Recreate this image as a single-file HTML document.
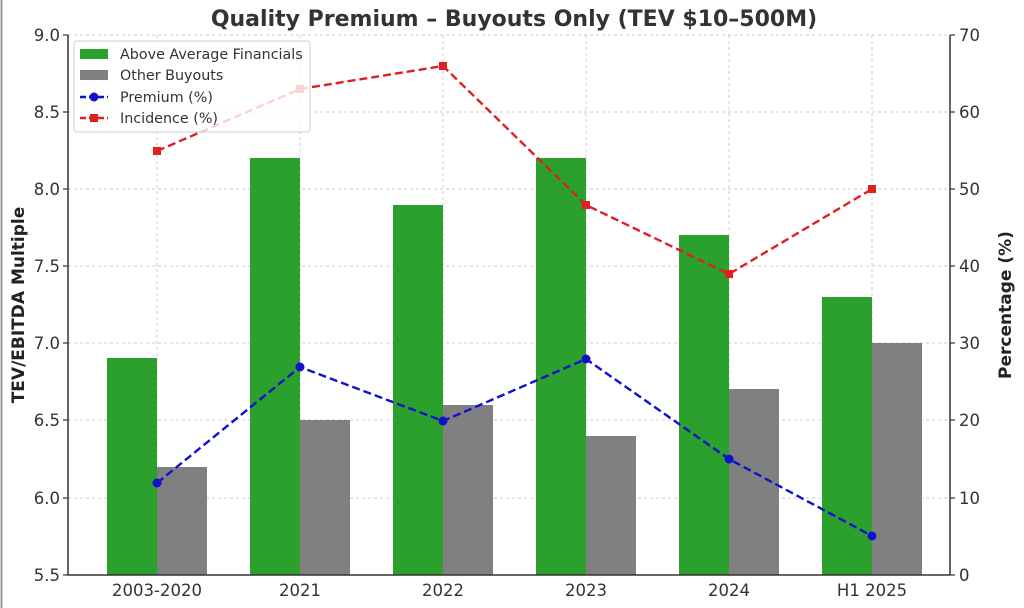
<!DOCTYPE html>
<html><head><style>body{margin:0;background:#fff}svg{display:block}</style></head><body>
<svg width="1024" height="608" xmlns="http://www.w3.org/2000/svg" font-family="'DejaVu Sans','Liberation Sans',sans-serif">
<rect width="1024" height="608" fill="#fff"/>
<line x1="1.5" y1="0" x2="1.5" y2="608" stroke="#999" stroke-width="2"/>
<text x="514" y="26" text-anchor="middle" font-size="22" font-weight="bold" fill="#333">Quality Premium – Buyouts Only (TEV $10–500M)</text>
<g stroke="#ccc" stroke-dasharray="3,3" stroke-width="1">
<line x1="68" x2="950" y1="35" y2="35"/><line x1="68" x2="950" y1="112" y2="112"/><line x1="68" x2="950" y1="189" y2="189"/><line x1="68" x2="950" y1="266" y2="266"/><line x1="68" x2="950" y1="343" y2="343"/><line x1="68" x2="950" y1="420" y2="420"/><line x1="68" x2="950" y1="498" y2="498"/>
<line x1="157" x2="157" y1="35" y2="575"/><line x1="300" x2="300" y1="35" y2="575"/><line x1="443" x2="443" y1="35" y2="575"/><line x1="586" x2="586" y1="35" y2="575"/><line x1="729" x2="729" y1="35" y2="575"/><line x1="872" x2="872" y1="35" y2="575"/>
</g>
<g fill="#2ca02c">
<rect x="107" y="358" width="50" height="217"/><rect x="250" y="158" width="50" height="417"/><rect x="393" y="205" width="50" height="370"/><rect x="536" y="158" width="50" height="417"/><rect x="679" y="235" width="50" height="340"/><rect x="822" y="297" width="50" height="278"/>
</g>
<g fill="#808080">
<rect x="157" y="467" width="50" height="108"/><rect x="300" y="420" width="50" height="155"/><rect x="443" y="405" width="50" height="170"/><rect x="586" y="436" width="50" height="139"/><rect x="729" y="389" width="50" height="186"/><rect x="872" y="343" width="50" height="232"/>
</g>
<polyline points="157,483 300,367 443,421 586,359 729,459 872,536" fill="none" stroke="#1010d0" stroke-width="2.4" stroke-dasharray="8,4"/>
<g fill="#1010d0"><circle cx="157" cy="483" r="4.5"/><circle cx="300" cy="367" r="4.5"/><circle cx="443" cy="421" r="4.5"/><circle cx="586" cy="359" r="4.5"/><circle cx="729" cy="459" r="4.5"/><circle cx="872" cy="536" r="4.5"/></g>
<polyline points="157,151 300,89 443,66 586,205 729,274 872,189" fill="none" stroke="#e02020" stroke-width="2.4" stroke-dasharray="8,4"/>
<g fill="#e02020"><rect x="153" y="147" width="8" height="8"/><rect x="296" y="85" width="8" height="8"/><rect x="439" y="62" width="8" height="8"/><rect x="582" y="201" width="8" height="8"/><rect x="725" y="270" width="8" height="8"/><rect x="868" y="185" width="8" height="8"/></g>
<g stroke="#333" stroke-width="1.5" fill="none">
<line x1="68" y1="35" x2="68" y2="575"/><line x1="68" y1="575" x2="950" y2="575"/><line x1="950" y1="35" x2="950" y2="575"/>
</g>
<g stroke="#333" stroke-width="1.2">
<line x1="63" x2="68" y1="35" y2="35"/><line x1="63" x2="68" y1="112" y2="112"/><line x1="63" x2="68" y1="189" y2="189"/><line x1="63" x2="68" y1="266" y2="266"/><line x1="63" x2="68" y1="343" y2="343"/><line x1="63" x2="68" y1="420" y2="420"/><line x1="63" x2="68" y1="498" y2="498"/><line x1="63" x2="68" y1="575" y2="575"/>
<line x1="950" x2="955" y1="35" y2="35"/><line x1="950" x2="955" y1="112" y2="112"/><line x1="950" x2="955" y1="189" y2="189"/><line x1="950" x2="955" y1="266" y2="266"/><line x1="950" x2="955" y1="343" y2="343"/><line x1="950" x2="955" y1="420" y2="420"/><line x1="950" x2="955" y1="498" y2="498"/><line x1="950" x2="955" y1="575" y2="575"/>
</g>
<g font-size="16.5" fill="#333" text-anchor="end">
<text x="60" y="41">9.0</text><text x="60" y="118">8.5</text><text x="60" y="195">8.0</text><text x="60" y="272">7.5</text><text x="60" y="349">7.0</text><text x="60" y="426">6.5</text><text x="60" y="504">6.0</text><text x="60" y="581">5.5</text>
</g>
<g font-size="16.5" fill="#333">
<text x="959" y="41">70</text><text x="959" y="118">60</text><text x="959" y="195">50</text><text x="959" y="272">40</text><text x="959" y="349">30</text><text x="959" y="426">20</text><text x="959" y="504">10</text><text x="959" y="581">0</text>
</g>
<g font-size="16.5" fill="#333" text-anchor="middle">
<text x="157" y="596">2003-2020</text><text x="300" y="596">2021</text><text x="443" y="596">2022</text><text x="586" y="596">2023</text><text x="729" y="596">2024</text><text x="872" y="596">H1 2025</text>
</g>
<text transform="translate(24,305) rotate(-90)" text-anchor="middle" font-size="17" font-weight="bold" fill="#222">TEV/EBITDA Multiple</text>
<text transform="translate(1011,305) rotate(-90)" text-anchor="middle" font-size="17" font-weight="bold" fill="#222">Percentage (%)</text>
<rect x="74" y="41" width="236" height="91" rx="3" fill="#fff" fill-opacity="0.8" stroke="#ccc"/>
<rect x="80" y="49" width="28" height="10" fill="#2ca02c"/>
<rect x="80" y="70" width="28" height="10" fill="#808080"/>
<line x1="80" x2="108" y1="97" y2="97" stroke="#1010d0" stroke-width="2.4" stroke-dasharray="6,3"/><circle cx="94" cy="97" r="4.5" fill="#1010d0"/>
<line x1="80" x2="108" y1="118" y2="118" stroke="#e02020" stroke-width="2.4" stroke-dasharray="6,3"/><rect x="90" y="114" width="8" height="8" fill="#e02020"/>
<g font-size="14.3" fill="#333">
<text x="120" y="59">Above Average Financials</text><text x="120" y="80">Other Buyouts</text><text x="120" y="102">Premium (%)</text><text x="120" y="123">Incidence (%)</text>
</g>
</svg>
</body></html>
